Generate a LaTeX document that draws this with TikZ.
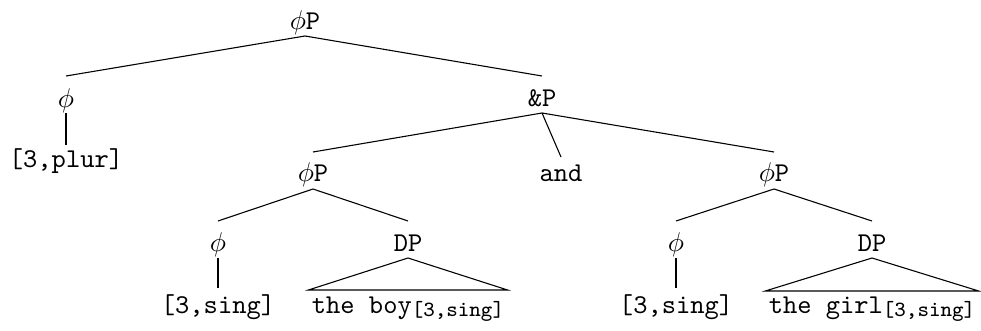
\documentclass[tikz,border=0pt]{standalone}
\usetikzlibrary{calc}
\begin{document}
\begin{tikzpicture}[x=0.3683pt,y=-0.3683pt,
  lab/.style={inner sep=0pt,anchor=base,font=\ttfamily},
  branch/.style={line width=0.4pt}]
\useasboundingbox (0,0) rectangle (981,331);
% nodes
\node[lab] (root)  at (305,30)  {$\phi$P};
\node[lab] (phiA)  at (66,108)  {$\phi$};
\node[lab] (plur)  at (66,168)  {[3,plur]};
\node[lab] (andP)  at (542,107) {\&P};
\node[lab] (phiPL) at (313,182) {$\phi$P};
\node[lab] (andW)  at (561,182) {and};
\node[lab] (phiPR) at (774,182) {$\phi$P};
\node[lab] (phiL)  at (218,252) {$\phi$};
\node[lab] (DPL)   at (408,252) {DP};
\node[lab] (phiR)  at (676,252) {$\phi$};
\node[lab] (DPR)   at (872,252) {DP};
\node[lab] (singL) at (218,313) {[3,sing]};
\node[lab] (boy)   at (408,313) {the boy\raisebox{-1.2pt}{\footnotesize\ttfamily[3,sing]}};
\node[lab] (singR) at (676,313) {[3,sing]};
\node[lab] (girl)  at (872,313) {the girl\raisebox{-1.2pt}{\footnotesize\ttfamily[3,sing]}};
% branches
\draw[branch] ($(root.base)+(0,6)$) -- ($(phiA.base)+(0,-32)$);
\draw[branch] ($(root.base)+(0,6)$) -- ($(andP.base)+(0,-31)$);
\draw[branch] ($(phiA.base)+(0,5)$) -- ($(plur.base)+(0,-23)$);
\draw[branch] ($(andP.base)+(0,6)$) -- ($(phiPL.base)+(0,-30)$);
\draw[branch] ($(andP.base)+(0,6)$) -- ($(andW.base)+(0,-25)$);
\draw[branch] ($(andP.base)+(0,6)$) -- ($(phiPR.base)+(0,-30)$);
\draw[branch] ($(phiPL.base)+(0,7)$) -- ($(phiL.base)+(0,-31)$);
\draw[branch] ($(phiPL.base)+(0,7)$) -- ($(DPL.base)+(0,-31)$);
\draw[branch] ($(phiPR.base)+(0,7)$) -- ($(phiR.base)+(0,-31)$);
\draw[branch] ($(phiPR.base)+(0,7)$) -- ($(DPR.base)+(0,-31)$);
\draw[branch] ($(phiL.base)+(0,6)$) -- ($(singL.base)+(0,-25)$);
\draw[branch] ($(phiR.base)+(0,6)$) -- ($(singR.base)+(0,-25)$);
% roofs
\draw[branch] ($(DPL.base)+(0,6)$) -- ($(boy.base west)+(-3,-23)$) -- ($(boy.base east)+(3,-23)$) -- cycle;
\draw[branch] ($(DPR.base)+(0,6)$) -- ($(girl.base west)+(-3,-22)$) -- ($(girl.base east)+(3,-22)$) -- cycle;
\end{tikzpicture}
\end{document}
